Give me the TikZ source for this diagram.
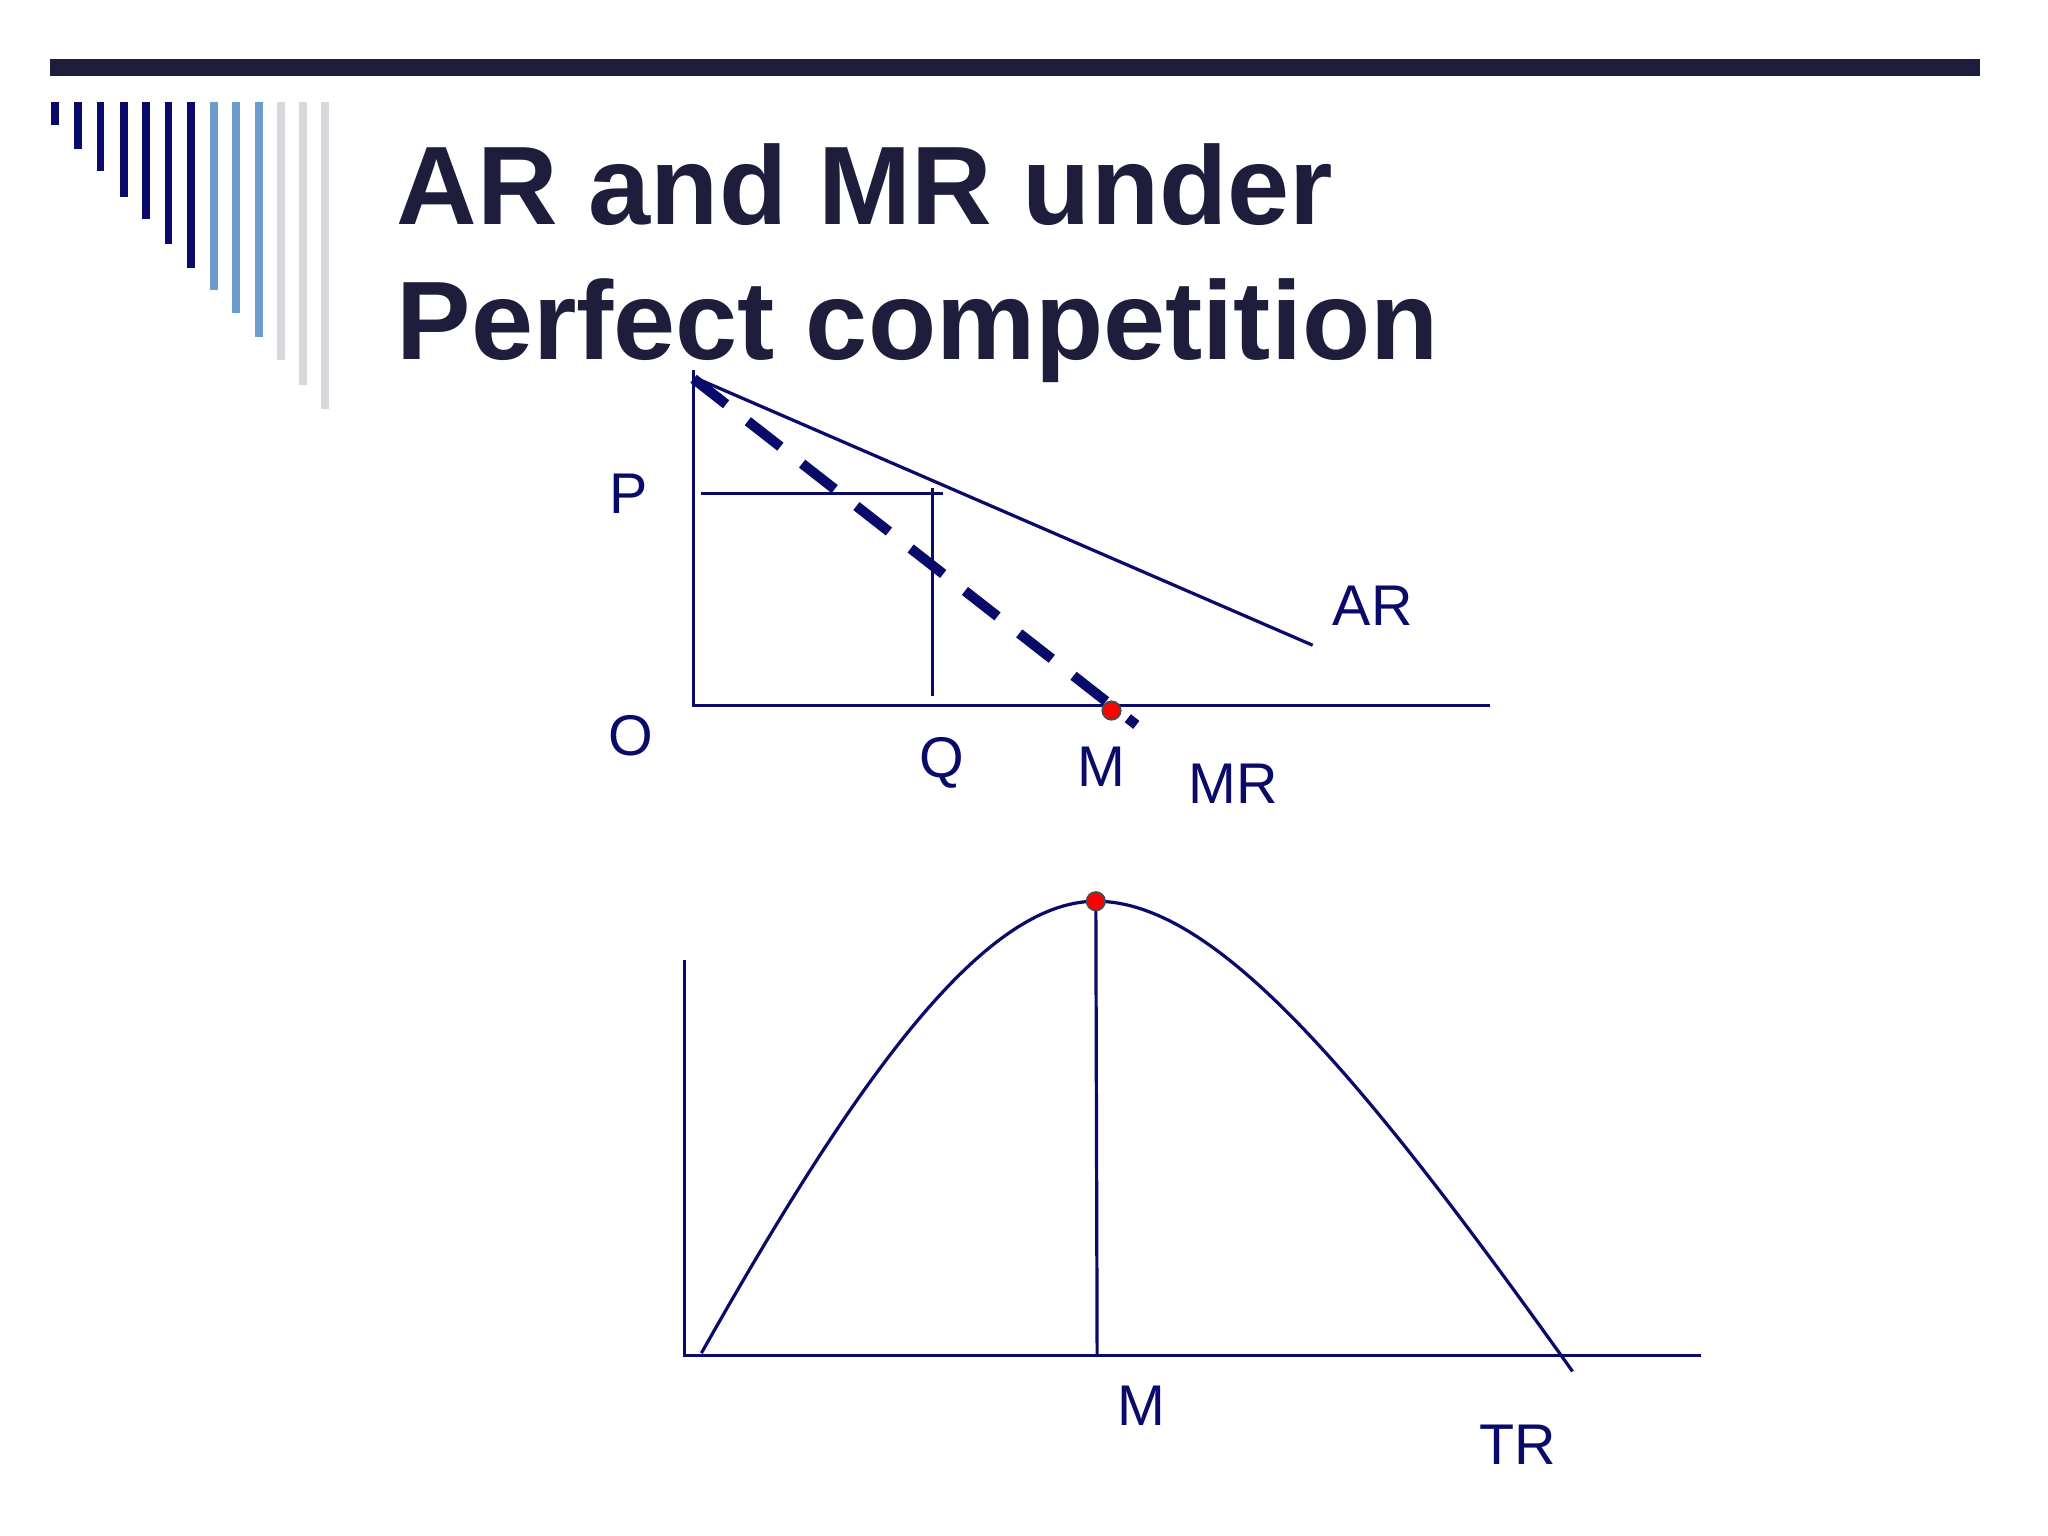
\documentclass[tikz,border=0pt]{standalone}
\usepackage{fontspec}
\setmainfont{Liberation Sans}
\begin{document}
\begin{tikzpicture}[x=0.01cm,y=-0.01cm,
  ln/.style={draw=navy,line width=0.7pt},
  lbl/.style={text=navy,font=\fontsize{12.5}{14}\selectfont,inner sep=0pt},
  rdot/.style={circle,fill=red,draw=black!70,line width=0.4pt,inner sep=0pt,minimum size=0.14cm}]
\definecolor{navy}{HTML}{0A0A6A}
\definecolor{ttl}{HTML}{1E1E3C}
\definecolor{lblue}{HTML}{6C9CCC}
\definecolor{lgray}{HTML}{D8D8DC}
\useasboundingbox (0,0) rectangle (1568,1176);
\fill[white] (0,0) rectangle (1568,1176);
\fill[ttl] (38,45) rectangle (1516,58);
\foreach \x/\b/\c in {42/96/navy,60/114/navy,77/131/navy,95/151/navy,112/168/navy,129/187/navy,146/205/navy,164/222/lblue,181/240/lblue,198/258/lblue,215/276/lgray,232/295/lgray,249/313/lgray}
  \fill[\c] (\x-3,78) rectangle (\x+3,\b);
\node[anchor=base west,inner sep=0pt,text=ttl,font=\bfseries\fontsize{24.3}{30}\selectfont] (title) at (303,172) {AR and MR under};
\node[anchor=base west,inner sep=0pt,text=ttl,font=\bfseries\fontsize{24.3}{30}\selectfont] (title2) at (303,275) {Perfect competition};
% graph 1
\coordinate (o1) at (531,540);
\coordinate (y1) at (531,283);
\coordinate (x1) at (1141,540);
\draw[ln] (y1) -- (o1) -- (x1);
\coordinate (ar0) at (534,290); \coordinate (ar1) at (1005,494);
\draw[ln] (ar0) -- (ar1);
\coordinate (mr0) at (531,290); \coordinate (mr1) at (870,555);
\draw[navy,line width=2.2pt,dash pattern=on 9pt off 6pt] (mr0) -- (mr1);
\coordinate (p0) at (537,378); \coordinate (p1) at (722,378);
\draw[ln] (p0) -- (p1);
\coordinate (q0) at (714,374); \coordinate (q1) at (714,533);
\draw[ln] (q0) -- (q1);
\node[rdot] (d1) at (851,544) {};
\node[lbl] (P) at (481,378) {P};
\node[lbl] (O) at (483,563) {O};
\node[lbl] (Q) at (721,584) {Q};
\node[lbl] (M1) at (843,587) {M};
\node[lbl] (MR) at (944,600) {MR};
\node[lbl] (AR) at (1051,464) {AR};
% graph 2
\coordinate (o2) at (524,1038);
\coordinate (y2) at (524,735);
\coordinate (x2) at (1302,1038);
\draw[ln] (y2) -- (o2) -- (x2);
\coordinate (t0) at (537,1036); \coordinate (tp) at (839,690); \coordinate (t1) at (1204,1050);
\draw[ln] (t0) .. controls (650,836) and (750,690) .. (tp) .. controls (930,690) and (1040,820) .. (t1);
\coordinate (v1) at (840,1038);
\draw[ln] (tp) -- (v1);
\node[rdot] (d2) at (tp) {};
\node[lbl] (M2) at (874,1076) {M};
\node[lbl] (TR) at (1162,1106) {TR};
\end{tikzpicture}
\end{document}
